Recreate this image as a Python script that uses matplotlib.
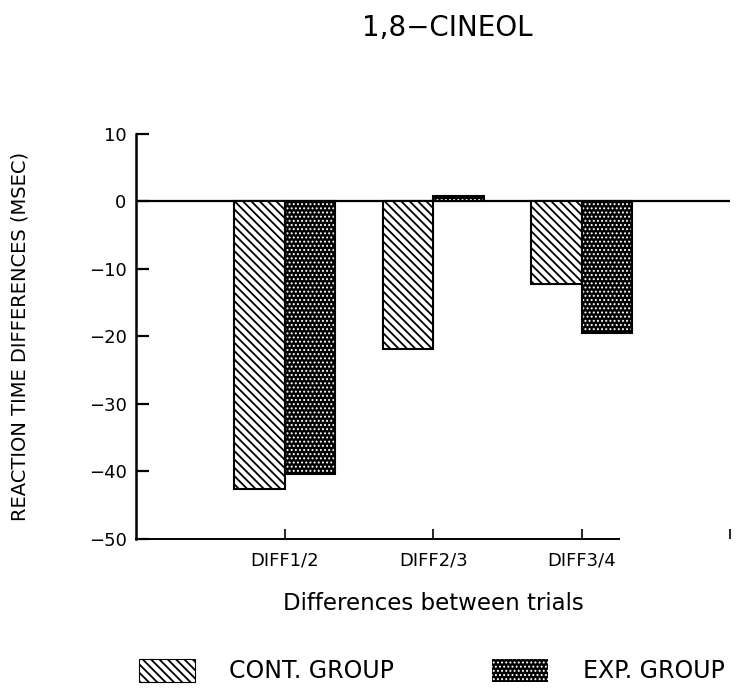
import matplotlib.pyplot as plt
import numpy as np
from matplotlib.patches import Patch

# --- data ---
categories = ["DIFF1/2", "DIFF2/3", "DIFF3/4"]
cont_group = [-42.6, -21.9, -12.2]
exp_group = [-40.4, 0.8, -19.5]
group_names = ["CONT. GROUP", "EXP. GROUP"]

plt.rcParams['font.family'] = ['DejaVu Sans']

CONT_HATCH = '\\' * 4
EXP_HATCH = '....'
CONT_HLW = 1.3
EXP_HLW = 0.9

fig = plt.figure(figsize=(7.45, 6.89), dpi=100)
ax = fig.add_axes([0.183, 0.218, 0.797, 0.588])

x = np.arange(1, len(categories) + 1)
w = 0.34

# control group: white bars with dense diagonal hatching
plt.rcParams['hatch.linewidth'] = CONT_HLW
ax.bar(x - w / 2, cont_group, w, facecolor='white', edgecolor='black',
       hatch=CONT_HATCH, linewidth=1.5)

# experimental group: black with white dots, then a black outline on top
plt.rcParams['hatch.linewidth'] = EXP_HLW
ax.bar(x + w / 2, exp_group, w, facecolor='black', edgecolor='white',
       hatch=EXP_HATCH, linewidth=0)
ax.bar(x + w / 2, exp_group, w, fill=False, edgecolor='black', linewidth=1.5)

ax.axhline(0, color='black', lw=1.6, zorder=0)

ax.set_xlim(0, 4)
ax.set_ylim(-50, 10)
ax.set_yticks(np.arange(-50, 11, 10))
ax.set_xticks([1, 2, 3, 4])
ax.set_xticklabels(categories + [""])

for s in ['top', 'right']:
    ax.spines[s].set_visible(False)
ax.spines['left'].set_linewidth(1.8)
ax.spines['bottom'].set_linewidth(1.4)
ax.spines['bottom'].set_bounds(0, 3.25)

ax.tick_params(axis='y', direction='in', length=9, width=1.6, labelsize=13, pad=7)
ax.tick_params(axis='x', direction='in', length=7, width=1.2, labelsize=13, pad=9)

ax.set_xlabel("Differences between trials", fontsize=16.5, labelpad=16)
ax.set_ylabel("REACTION TIME DIFFERENCES (MSEC)", fontsize=14)
ax.yaxis.set_label_coords(-0.18, 0.5)

fig.text(0.601, 0.96, "1,8\u2212CINEOL", ha='center', va='center', fontsize=20)

# two single-entry legends so each swatch keeps its own hatch line width
leg_kw = dict(loc='lower left', frameon=False, fontsize=17, borderpad=0,
              borderaxespad=0, handlelength=2.4, handleheight=1.1,
              handletextpad=1.45)
plt.rcParams['hatch.linewidth'] = CONT_HLW
leg1 = fig.legend([Patch(facecolor='white', edgecolor='black', hatch=CONT_HATCH, linewidth=0.8)],
                  [group_names[0]], bbox_to_anchor=(0.186, 0.008), **leg_kw)
plt.rcParams['hatch.linewidth'] = EXP_HLW
leg2 = fig.legend([Patch(facecolor='black', edgecolor='white', hatch=EXP_HATCH, linewidth=0)],
                  [group_names[1]], bbox_to_anchor=(0.66, 0.008), **leg_kw)

fig.savefig("out.png", dpi=100)
